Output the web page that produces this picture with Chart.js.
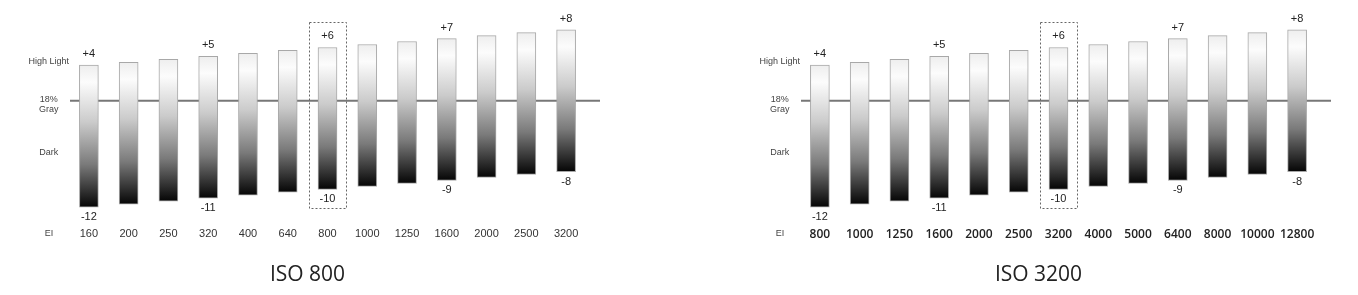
<!DOCTYPE html>
<html>
<head>
<meta charset="utf-8">
<script src="https://cdn.jsdelivr.net/npm/chart.js@4.4.1/dist/chart.umd.min.js"></script>
<style>
  html, body { margin: 0; padding: 0; background: #fff; overflow: hidden; }
  .panel { position: absolute; top: 0; height: 295px; }
</style>
</head>
<body>
<div class="panel" style="left:0"><canvas id="iso800" width="620" height="295"></canvas></div>
<div class="panel" style="left:731px"><canvas id="iso3200" width="630" height="295"></canvas></div>
<script>
// EI settings available at each base ISO
const eiIso800 = ['160', '200', '250', '320', '400', '640', '800', '1000', '1250', '1600', '2000', '2500', '3200'];
const eiIso3200 = ['800', '1000', '1250', '1600', '2000', '2500', '3200', '4000', '5000', '6400', '8000', '10000', '12800'];

// stops above / below 18% gray for each EI
const highStops = [4, 4.33, 4.67, 5, 5.33, 5.67, 6, 6.33, 6.67, 7, 7.33, 7.67, 8];
const darkStops = [-12, -11.67, -11.33, -11, -10.67, -10.33, -10, -9.67, -9.33, -9, -8.67, -8.33, -8];

const nativeIndex = 6;
const axisMarks = [4.4, -0.4, -5.9];
const axisNames = ['High Light', ['18%', 'Gray'], 'Dark'];

const exposurePlugin = {
  id: 'exposure',
  beforeDatasetsDraw(chart) {
    const { ctx, chartArea, scales } = chart;
    const y0 = scales.y.getPixelForValue(0);
    ctx.save();
    ctx.strokeStyle = '#777';
    ctx.lineWidth = 2;
    ctx.beginPath();
    ctx.moveTo(chartArea.left + 1, y0);
    ctx.lineTo(chartArea.right + 14, y0);
    ctx.stroke();
    ctx.restore();
  },
  afterDatasetsDraw(chart) {
    const { ctx, scales, chartArea } = chart;
    const bars = chart.getDatasetMeta(0).data;
    const values = chart.data.datasets[0].data;
    ctx.save();
    ctx.font = '11px "Liberation Sans", Arial, sans-serif';
    ctx.fillStyle = '#222';
    ctx.textAlign = 'center';
    ctx.textBaseline = 'middle';
    bars.forEach((bar, i) => {
      const [lo, hi] = values[i];
      if (Number.isInteger(hi)) ctx.fillText('+' + hi, bar.x, scales.y.getPixelForValue(hi) - 11);
      if (Number.isInteger(lo)) ctx.fillText(String(lo), bar.x, scales.y.getPixelForValue(lo) + 10);
    });

    // dotted box round the native EI
    const nb = bars[nativeIndex];
    const top = Math.round(scales.y.getPixelForValue(values[nativeIndex][1]) - 25);
    const bottom = Math.round(scales.y.getPixelForValue(values[nativeIndex][0]) + 19);
    ctx.setLineDash([2, 2]);
    ctx.strokeStyle = '#666';
    ctx.lineWidth = 1;
    ctx.strokeRect(Math.round(nb.x - 19) + 0.5, top + 0.5, 37, bottom - top);
    ctx.setLineDash([]);

    ctx.font = '9px "Liberation Sans", Arial, sans-serif';
    ctx.fillStyle = '#444';
    ctx.fillText('EI', chartArea.left - 20, scales.x.top + 9);
    ctx.restore();
  }
};

function barGradient(c) {
  const { chart } = c;
  if (!chart.chartArea || c.type !== 'data') return '#999';
  const [lo, hi] = c.raw;
  const yTop = chart.scales.y.getPixelForValue(hi);
  const yBot = chart.scales.y.getPixelForValue(lo);
  const g = chart.ctx.createLinearGradient(0, yTop, 0, yBot);
  g.addColorStop(0, '#eeeeee');
  g.addColorStop(0.12, '#fcfcfc');
  g.addColorStop(0.4, '#cbcbcb');
  g.addColorStop(0.7, '#7a7a7a');
  g.addColorStop(1, '#050505');
  return g;
}

function makeChart(id, labels, title, tickFont, tickColor, padRight) {
  return new Chart(document.getElementById(id), {
    type: 'bar',
    data: {
      labels,
      datasets: [{
        data: highStops.map((h, i) => [darkStops[i], h]),
        backgroundColor: barGradient,
        borderColor: '#a8a8a8',
        borderWidth: 1,
        borderSkipped: false,
        barThickness: 19,
      }],
    },
    options: {
      responsive: false,
      animation: false,
      layout: { padding: { top: 12, left: 29, right: padRight, bottom: 0 } },
      scales: {
        x: {
          grid: { display: false, drawTicks: false },
          border: { display: false },
          ticks: { font: tickFont, color: tickColor, padding: 3, maxRotation: 0, autoSkip: false },
          afterFit(scale) { scale.height = 28; },
        },
        y: {
          min: -14,
          max: 10,
          grid: { display: false, drawTicks: false },
          border: { display: false },
          afterBuildTicks(scale) { scale.ticks = axisMarks.map(v => ({ value: v })); },
          ticks: {
            crossAlign: 'center',
            padding: 0,
            font: { family: '"Liberation Sans", Arial, sans-serif', size: 9, lineHeight: 1.15 },
            color: '#444',
            callback: (value, index) => axisNames[index],
          },
          afterFit(scale) { scale.width = 40; },
        },
      },
      plugins: {
        legend: { display: false },
        tooltip: { enabled: false },
        title: {
          display: true,
          position: 'bottom',
          text: title,
          color: '#222',
          font: { family: '"Open Sans", "Noto Sans", sans-serif', size: 21, weight: 'normal' },
          padding: { top: 10, bottom: 7 },
        },
      },
    },
    plugins: [exposurePlugin],
  });
}

makeChart('iso800', eiIso800, 'ISO 800',
  { family: '"Liberation Sans", Arial, sans-serif', size: 11 }, '#333', 34);
makeChart('iso3200', eiIso3200, 'ISO 3200',
  { family: '"Open Sans", "Noto Sans", sans-serif', size: 12, weight: '600' }, '#222', 44);
</script>
</body>
</html>
